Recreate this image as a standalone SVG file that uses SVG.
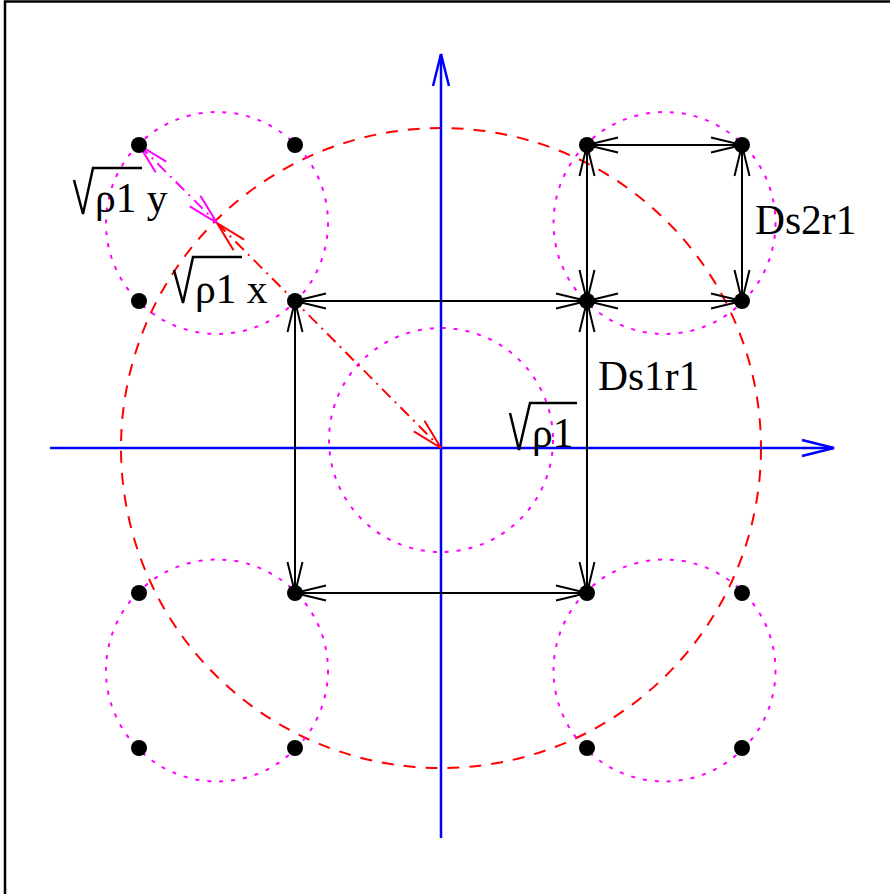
<svg xmlns="http://www.w3.org/2000/svg" width="890" height="894" viewBox="0 0 890 894">
<style>
.dot{fill:#000}
.mag{fill:none;stroke:#ff00ff;stroke-width:2;stroke-dasharray:4 8}
.red{fill:none;stroke:#ff0000;stroke-width:2;stroke-dasharray:12 10}
.conn{fill:none;stroke:#000;stroke-width:2;marker-start:url(#ak);marker-end:url(#ak)}
.axis{fill:none;stroke:#0000ff;stroke-width:2.5;marker-end:url(#ab)}
.rdd{fill:none;stroke:#ff0000;stroke-width:2;stroke-dasharray:12 6 2 6;marker-start:url(#ar);marker-end:url(#ar)}
.mdd{fill:none;stroke:#ff00ff;stroke-width:2;stroke-dasharray:12 6 2 6;marker-start:url(#am);marker-end:url(#am)}
text{font-family:"Liberation Serif","Times New Roman",serif;font-size:41.5px;fill:#000}
.rad{fill:none;stroke:#000;stroke-width:2.5}
</style>
<defs>
<marker id="ak" viewBox="-32 -9 34 18" refX="0" refY="0" markerWidth="34" markerHeight="18" markerUnits="userSpaceOnUse" orient="auto-start-reverse">
<path d="M -31 -7.5 L 0 0 L -31 7.5" fill="none" stroke="#000" stroke-width="2"/>
</marker>
<marker id="ab" viewBox="-34 -10 36 20" refX="0" refY="0" markerWidth="36" markerHeight="20" markerUnits="userSpaceOnUse" orient="auto-start-reverse">
<path d="M -32 -8 L 0 0 L -32 8" fill="none" stroke="#0000ff" stroke-width="2.5"/>
</marker>
<marker id="ar" viewBox="-32 -9 34 18" refX="0" refY="0" markerWidth="34" markerHeight="18" markerUnits="userSpaceOnUse" orient="auto-start-reverse">
<path d="M -31 -7.5 L 0 0 L -31 7.5" fill="none" stroke="#ff0000" stroke-width="2"/>
</marker>
<marker id="am" viewBox="-32 -9 34 18" refX="0" refY="0" markerWidth="34" markerHeight="18" markerUnits="userSpaceOnUse" orient="auto-start-reverse">
<path d="M -31 -7.5 L 0 0 L -31 7.5" fill="none" stroke="#ff00ff" stroke-width="2"/>
</marker>
</defs>
<rect width="890" height="894" fill="#fff"/>
<path d="M 5 894 L 5 1.5 L 890 1.5" fill="none" stroke="#000" stroke-width="2.5"/>

<g id="circles">
<circle class="red" cx="441" cy="448" r="320"/>
<circle class="mag" cx="441" cy="440" r="112"/>
<circle class="mag" cx="217" cy="223" r="111"/>
<circle class="mag" cx="664.5" cy="223" r="111"/>
<circle class="mag" cx="217" cy="670.5" r="111"/>
<circle class="mag" cx="664.5" cy="670.5" r="111"/>
</g>

<g id="axes">
<path class="axis" d="M 50 448 L 834 448"/>
<path class="axis" d="M 441 838 L 441 54"/>
</g>

<g id="connectors">
<path class="conn" d="M 295 301 L 587 301"/>
<path class="conn" d="M 587 145 L 742 145"/>
<path class="conn" d="M 587 145 L 587 301"/>
<path class="conn" d="M 742 145 L 742 301"/>
<path class="conn" d="M 587 301 L 742 301"/>
<path class="conn" d="M 295 301 L 295 593"/>
<path class="conn" d="M 587 301 L 587 593"/>
<path class="conn" d="M 295 593 L 587 593"/>
<path class="rdd" d="M 217 223 L 441 448"/>
<path class="mdd" d="M 139 145 L 217 223"/>
</g>

<g id="points">
<circle class="dot" cx="139" cy="145" r="8"/>
<circle class="dot" cx="295" cy="145" r="8"/>
<circle class="dot" cx="587" cy="145" r="8"/>
<circle class="dot" cx="742" cy="145" r="8"/>
<circle class="dot" cx="139" cy="301" r="8"/>
<circle class="dot" cx="295" cy="301" r="8"/>
<circle class="dot" cx="587" cy="301" r="8"/>
<circle class="dot" cx="742" cy="301" r="8"/>
<circle class="dot" cx="139" cy="593" r="8"/>
<circle class="dot" cx="295" cy="593" r="8"/>
<circle class="dot" cx="587" cy="593" r="8"/>
<circle class="dot" cx="742" cy="593" r="8"/>
<circle class="dot" cx="139" cy="748" r="8"/>
<circle class="dot" cx="295" cy="748" r="8"/>
<circle class="dot" cx="587" cy="748" r="8"/>
<circle class="dot" cx="742" cy="748" r="8"/>
</g>

<g id="label-y">
<path class="rad" d="M 74 180 L 83 214 L 93 168 L 142 168"/>
<text x="95" y="212">ρ1 y</text>
</g>
<g id="label-x">
<path class="rad" d="M 174 270 L 183 303 L 193 257 L 242 257"/>
<text x="195" y="303">ρ1 x</text>
</g>
<g id="label-rho">
<path class="rad" d="M 510 413 L 519 450 L 530 403 L 577 403"/>
<text x="532" y="447">ρ1</text>
</g>
<g id="label-ds2r1"><text x="755" y="234">Ds2r1</text></g>
<g id="label-ds1r1"><text x="598" y="390">Ds1r1</text></g>
</svg>
